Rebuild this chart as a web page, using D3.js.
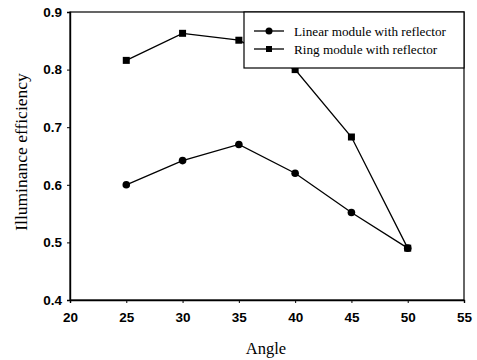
<!DOCTYPE html>
<html>
<head>
<meta charset="utf-8">
<script src="https://cdn.jsdelivr.net/npm/d3@7"></script>
<style>
  body { margin: 0; background: #fff; }
  svg { display: block; }
</style>
</head>
<body>
<svg id="chart" width="477" height="360"></svg>
<script>
var angles = [25, 30, 35, 40, 45, 50];
var linearValues = [0.60, 0.642, 0.67, 0.62, 0.552, 0.49];
var ringValues = [0.816, 0.863, 0.851, 0.80, 0.683, 0.49];
var xTicks = [20, 25, 30, 35, 40, 45, 50, 55];
var yTicks = [0.4, 0.5, 0.6, 0.7, 0.8, 0.9];
var seriesNames = ["Linear module with reflector", "Ring module with reflector"];

var svg = d3.select("#chart");
var plotLeft = 70, plotRight = 464, plotTop = 12, plotBottom = 300;

var x = d3.scaleLinear().domain([20, 55]).range([plotLeft, plotRight]);
var y = d3.scaleLinear().domain([0.4, 0.9]).range([plotBottom, plotTop]);

// frame
svg.append("rect")
  .attr("x", plotLeft).attr("y", plotTop)
  .attr("width", plotRight - plotLeft).attr("height", plotBottom - plotTop)
  .attr("fill", "none").attr("stroke", "#000").attr("stroke-width", 1.2);

var xAxis = svg.append("g")
  .attr("transform", "translate(0," + plotBottom + ")")
  .call(d3.axisBottom(x).tickValues(xTicks).tickSize(3).tickPadding(9).tickFormat(d3.format("d")));
var yAxis = svg.append("g")
  .attr("transform", "translate(" + plotLeft + ",0)")
  .call(d3.axisLeft(y).tickValues(yTicks).tickSize(3).tickPadding(5).tickFormat(d3.format(".1f")));

[xAxis, yAxis].forEach(function(g) {
  g.select(".domain").attr("stroke-width", 1.4);
  g.selectAll("text")
    .attr("font-family", "Liberation Sans, Arial, sans-serif")
    .attr("font-weight", "bold")
    .attr("font-size", 13.5)
    .attr("fill", "#000");
});

// axis titles
svg.append("text")
  .attr("x", 266).attr("y", 354)
  .attr("text-anchor", "middle")
  .attr("font-family", "Liberation Serif, Times New Roman, serif")
  .attr("font-size", 16.5)
  .text("Angle");
svg.append("text")
  .attr("transform", "translate(27,152) rotate(-90)")
  .attr("text-anchor", "middle")
  .attr("font-family", "Liberation Serif, Times New Roman, serif")
  .attr("font-size", 17.5)
  .text("Illuminance efficiency");

var line = d3.line()
  .x(function(d) { return x(d.a); })
  .y(function(d) { return y(d.v); });

function toPoints(vals) {
  return angles.map(function(a, i) { return {a: a, v: vals[i]}; });
}

var linearPts = toPoints(linearValues);
var ringPts = toPoints(ringValues);

svg.append("path").attr("d", line(ringPts))
  .attr("fill", "none").attr("stroke", "#000").attr("stroke-width", 1.3);
svg.append("path").attr("d", line(linearPts))
  .attr("fill", "none").attr("stroke", "#000").attr("stroke-width", 1.3);

svg.selectAll(".sq").data(ringPts).enter().append("rect")
  .attr("x", function(d) { return x(d.a) - 3.5; })
  .attr("y", function(d) { return y(d.v) - 3.5; })
  .attr("width", 7).attr("height", 7).attr("fill", "#000");
svg.selectAll(".ci").data(linearPts).enter().append("circle")
  .attr("cx", function(d) { return x(d.a); })
  .attr("cy", function(d) { return y(d.v); })
  .attr("r", 3.8).attr("fill", "#000");

// legend
var lg = svg.append("g");
lg.append("rect")
  .attr("x", 244).attr("y", plotTop)
  .attr("width", plotRight - 244).attr("height", 56)
  .attr("fill", "#fff").attr("stroke", "#000").attr("stroke-width", 1.2);
seriesNames.forEach(function(name, i) {
  var ly = 31 + i * 18;
  lg.append("line").attr("x1", 254).attr("x2", 284).attr("y1", ly).attr("y2", ly)
    .attr("stroke", "#000").attr("stroke-width", 1.3);
  if (i === 0) {
    lg.append("circle").attr("cx", 269).attr("cy", ly).attr("r", 3.5).attr("fill", "#000");
  } else {
    lg.append("rect").attr("x", 266).attr("y", ly - 3).attr("width", 6).attr("height", 6).attr("fill", "#000");
  }
  lg.append("text")
    .attr("x", 294).attr("y", ly + 4.5)
    .attr("font-family", "Liberation Serif, Times New Roman, serif")
    .attr("font-size", 13.2)
    .text(name);
});
</script>
</body>
</html>
